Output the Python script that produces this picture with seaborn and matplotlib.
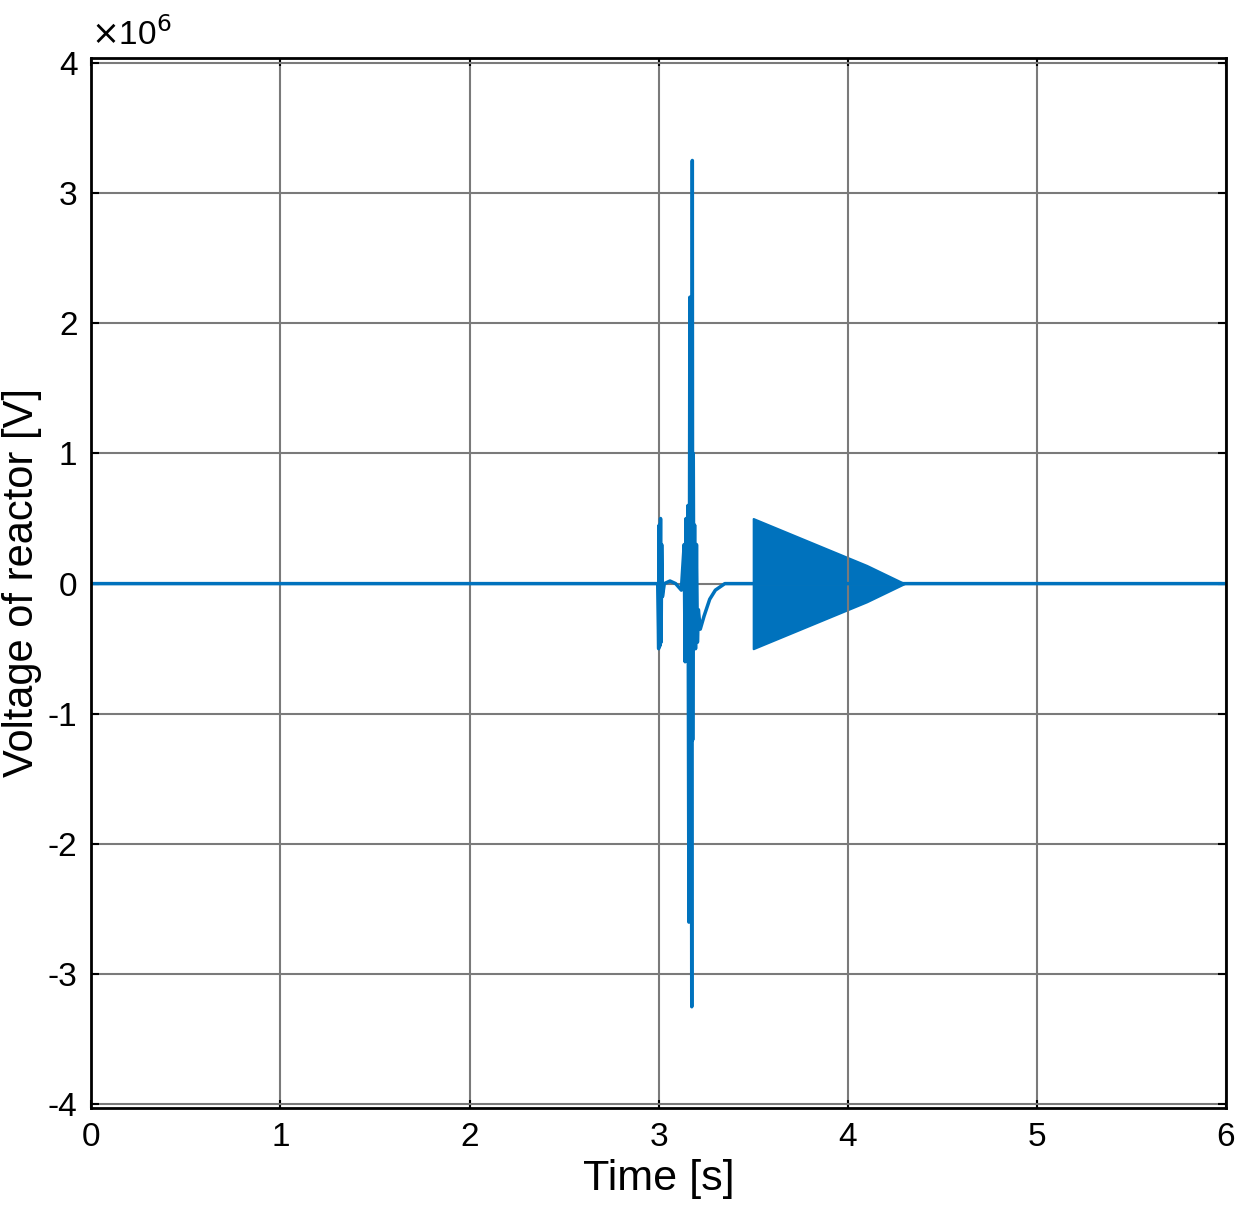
import numpy as np
import pandas as pd
import matplotlib.pyplot as plt
import seaborn as sns

# ---------- 数据（从图中读取，单位 V / 1e6） ----------
t_trace = [0.0, 2.995, 3.0, 3.003, 3.006, 3.01, 3.013, 3.016, 3.02, 3.03, 3.06, 3.09,
           3.12, 3.135, 3.14, 3.145, 3.15, 3.155, 3.16, 3.165, 3.17, 3.172, 3.175,
           3.178, 3.18, 3.183, 3.186, 3.19, 3.195, 3.2, 3.205, 3.21, 3.22, 3.24,
           3.27, 3.3, 3.35, 6.0]
v_trace = [0.0, 0.0, -0.5, 0.45, -0.48, 0.5, -0.45, 0.3, -0.1, 0.0, 0.02, 0.0,
           -0.05, 0.3, -0.6, 0.5, -0.4, 0.6, -2.6, 2.2, -2.4, 0.6, -3.25,
           3.25, -1.2, 1.0, -0.3, 0.45, -0.5, 0.3, -0.45, -0.2, -0.35, -0.25,
           -0.12, -0.05, 0.0, 0.0]
t_burst = [3.5, 3.5, 3.7, 3.9, 4.1, 4.2, 4.3]
env_burst = [0.0, 0.5, 0.38, 0.26, 0.14, 0.07, 0.0]

plt.rcParams['font.family'] = ['Liberation Sans', 'DejaVu Sans']
plt.rcParams['axes.unicode_minus'] = False
fig, ax = plt.subplots(figsize=(12.51, 12.26), dpi=100)
fig.subplots_adjust(left=0.073, right=0.98, top=0.953, bottom=0.096)

blue = '#0072BD'
df = pd.DataFrame({'t': t_trace, 'v': v_trace})
sns.lineplot(data=df, x='t', y='v', sort=False, estimator=None, color=blue, lw=2.5, ax=ax)
ax.fill_between(t_burst, [-e for e in env_burst], env_burst, color=blue, lw=1.5, edgecolor=blue)

ax.set_xlim(0, 6)
ax.set_ylim(-4.03, 4.04)
ax.set_xticks(range(0, 7))
ax.set_yticks(range(-4, 5))
ax.grid(True, color='#7a7a7a', lw=1.5)
ax.tick_params(labelsize=24, direction='in', length=6, width=1.5, top=True, right=True, pad=10)
for s in ax.spines.values():
    s.set_linewidth(2)
ax.set_xlabel('Time [s]', fontsize=31)
ax.set_ylabel('Voltage of reactor [V]', fontsize=30, labelpad=4)
ax.text(0.0, 1.005, r'$\times$10$^6$', transform=ax.transAxes, fontsize=24, va='bottom')
fig.savefig('out.png', dpi=100)
